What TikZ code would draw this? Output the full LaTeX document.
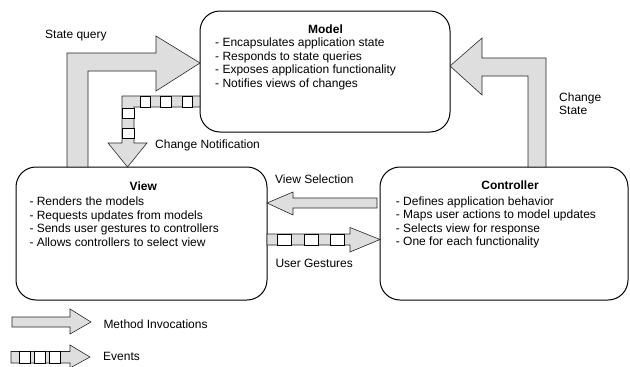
\documentclass[tikz,border=0pt]{standalone}
\usepackage{fontspec}
\setmainfont{Liberation Sans}
\definecolor{arrgray}{RGB}{222,222,222}
\begin{document}
\begin{tikzpicture}[x=1pt,y=-1pt,
  font=\fontsize{12}{13.5}\selectfont,
  box/.style={draw=black, line width=1pt, rounded corners=20pt, inner sep=0pt},
  blk/.style={fill=arrgray, draw=black!85, line width=0.6pt, line join=miter},
  cell/.style={fill=white, draw=black, line width=0.6pt},
  lbl/.style={anchor=base west, inner sep=0pt},
  ttl/.style={anchor=base, inner sep=0pt, font=\fontsize{12}{13.5}\selectfont\bfseries}]
\useasboundingbox (0,0) rectangle (630,367);

% boxes
\node[box, minimum width=250pt, minimum height=121pt] (model) at (325,71.5) {};
\node[box, minimum width=251pt, minimum height=133pt] (view) at (141.5,233.5) {};
\node[box, minimum width=248pt, minimum height=133pt] (ctrl) at (504,233.5) {};

% box texts
\node[ttl] (mt) at (325.5,33.3) {Model};
\foreach \t [count=\i] in {- Encapsulates application state,- Responds to state queries,- Exposes application functionality,- Notifies views of changes}
  \node[lbl] (m\i) at (215,{46.7+13.5*(\i-1)}) {\t};
\node[ttl] (vt) at (143.3,190.5) {View};
\foreach \t [count=\i] in {- Renders the models,- Requests updates from models,- Sends user gestures to controllers,- Allows controllers to select view}
  \node[lbl] (v\i) at (29.3,{205.5+13.5*(\i-1)}) {\t};
\node[ttl] (ct) at (510,189.3) {Controller};
\foreach \t [count=\i] in {- Defines application behavior,- Maps user actions to model updates,- Selects view for response,- One for each functionality}
  \node[lbl] (c\i) at (395.7,{205+13.5*(\i-1)}) {\t};

% State query (view -> model)
\draw[blk] (67,167) -- (67,53) -- (156,53) -- (156,36) -- (200,63) -- (156,91)
  -- (156,71) -- (88,71) -- (88,167) -- cycle;
\node[lbl] (sq) at (45,38.3) {State query};

% Change State (controller -> model)
\draw[blk] (528,167) -- (528,76) -- (482,76) -- (482,95) -- (450,66) -- (482,38)
  -- (482,58) -- (546,58) -- (546,167) -- cycle;
\node[lbl] (cs1) at (559,101) {Change};
\node[lbl] (cs2) at (559,114) {State};

% Change Notification (model -> view, events)
\draw[blk] (200,96) -- (122,96) -- (122,143) -- (108,143) -- (127.5,167) -- (147,143)
  -- (134,143) -- (134,107) -- (200,107) -- cycle;
\foreach \a in {140,160.5,182}
  \draw[cell] (\a,96) rectangle ++(10.5,11);
\foreach \b in {108,128}
  \draw[cell] (122,\b) rectangle ++(12,10.5);
\node[lbl] (cn) at (155,148.3) {Change Notification};

% View Selection (controller -> view)
\draw[blk] (377,198) -- (293,198) -- (293,192) -- (267,203) -- (293,215) -- (293,208)
  -- (377,208) -- cycle;
\node[lbl] (vs) at (275,183.5) {View Selection};

% User Gestures (view -> controller, events)
\draw[blk] (267,234) -- (350,234) -- (350,227.5) -- (380,239.5) -- (350,252) -- (350,245)
  -- (267,245) -- cycle;
\foreach \a in {277,304,330}
  \draw[cell] (\a,234) rectangle ++(14,11);
\node[lbl] (ug) at (275.3,267.3) {User Gestures};

% Legend
\draw[blk] (12,317) -- (70,317) -- (70,309) -- (91,322) -- (70,334) -- (70,327) -- (12,327) -- cycle;
\node[lbl] (lm) at (103.3,328.3) {Method Invocations};
\draw[blk] (11,351.5) -- (70,351.5) -- (70,345) -- (90,357) -- (70,368) -- (70,363) -- (11,363) -- cycle;
\foreach \a in {19,34,49}
  \draw[cell] (\a,351.5) rectangle ++(11,11.5);
\node[lbl] (le) at (103,360) {Events};
\end{tikzpicture}
\end{document}
